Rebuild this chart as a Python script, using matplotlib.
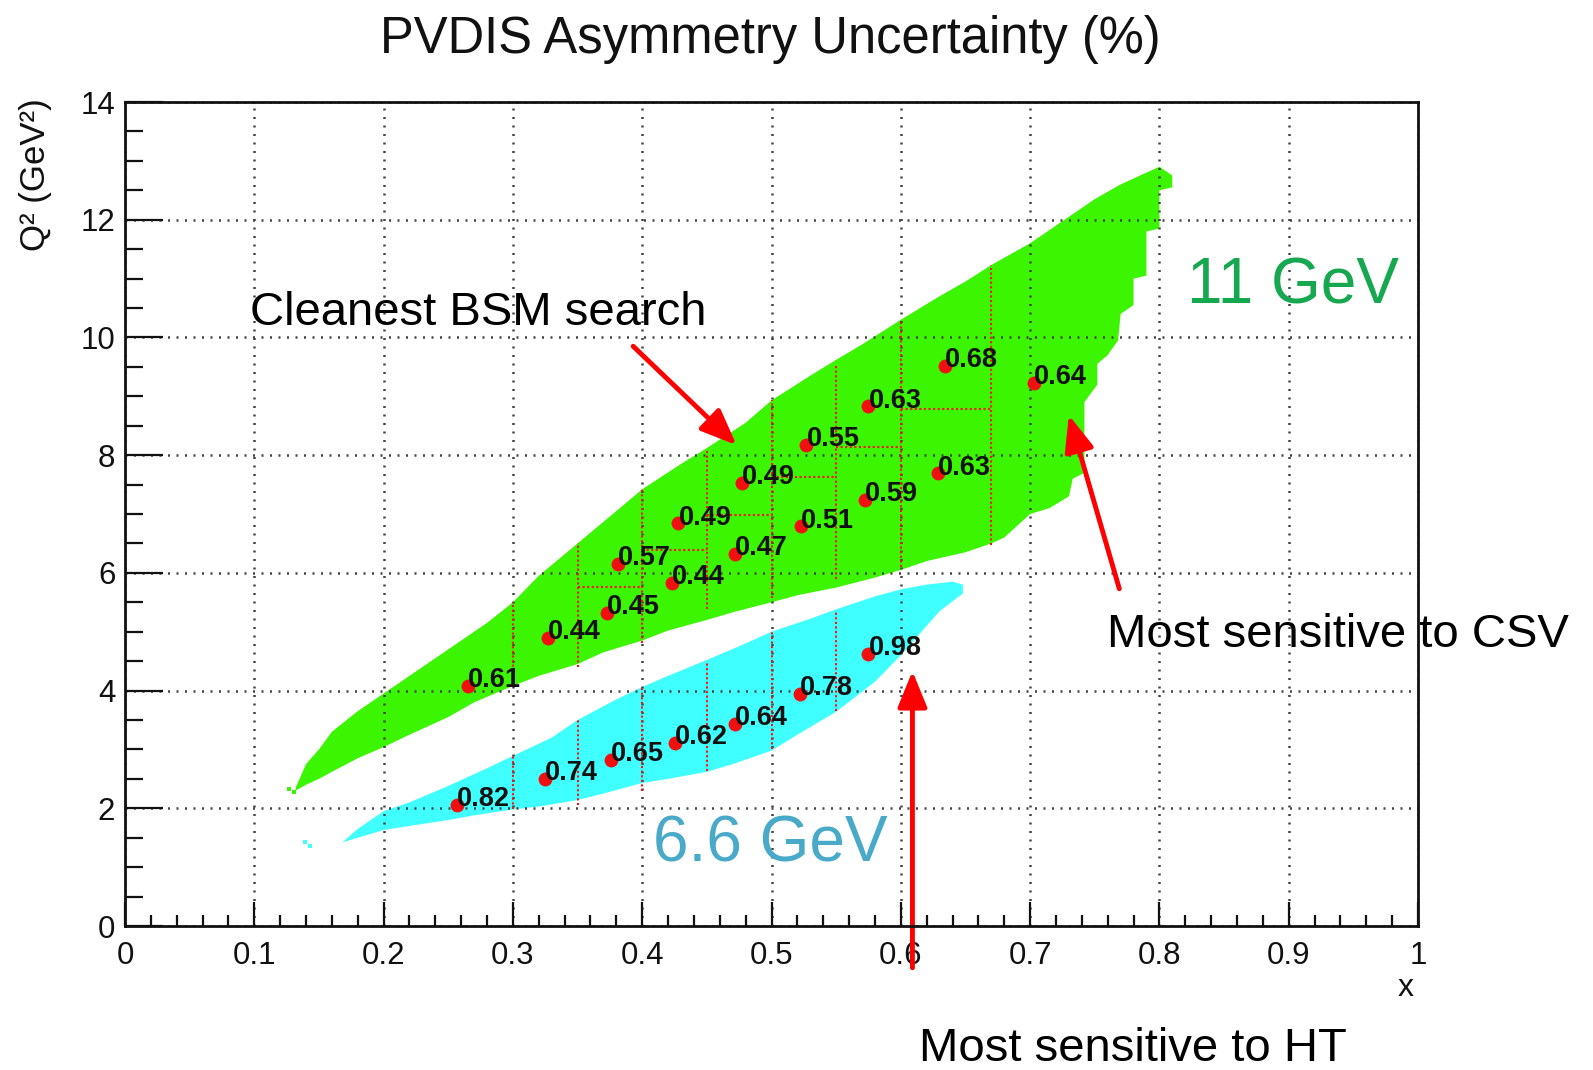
import matplotlib
matplotlib.use('Agg')
import matplotlib.pyplot as plt

plt.rcParams['font.family'] = ['Liberation Sans', 'DejaVu Sans']

# ---------------- data ----------------
TITLE = 'PVDIS Asymmetry Uncertainty (%)'
XLABEL = 'x'
YLABEL = 'Q² (GeV²)'

x_ticks = [0, 0.1, 0.2, 0.3, 0.4, 0.5, 0.6, 0.7, 0.8, 0.9, 1.0]
x_tick_labels = ['0', '0.1', '0.2', '0.3', '0.4', '0.5', '0.6', '0.7', '0.8', '0.9', '1']
y_ticks = [0, 2, 4, 6, 8, 10, 12, 14]
y_tick_labels = ['0', '2', '4', '6', '8', '10', '12', '14']

# 11 GeV kinematic coverage (outline)
green_outline_x = [0.132, 0.14, 0.15, 0.16, 0.18, 0.20, 0.22, 0.25, 0.28, 0.30, 0.32, 0.35,
                   0.38, 0.40, 0.43, 0.45, 0.48, 0.50, 0.53, 0.55, 0.57, 0.60, 0.63, 0.65,
                   0.67, 0.70, 0.73, 0.75, 0.77, 0.785, 0.795, 0.80, 0.81,
                   0.81, 0.80, 0.80, 0.79, 0.79, 0.78, 0.78, 0.77, 0.768, 0.76, 0.752, 0.752,
                   0.742, 0.742, 0.733, 0.73, 0.715, 0.70, 0.69, 0.68, 0.67,
                   0.65, 0.62, 0.60, 0.58, 0.55, 0.52, 0.50, 0.47, 0.45, 0.42, 0.40, 0.37,
                   0.35, 0.32, 0.30, 0.27, 0.25, 0.22, 0.20, 0.18, 0.16, 0.15, 0.14, 0.132]
green_outline_q2 = [2.35, 2.75, 3.0, 3.3, 3.65, 3.95, 4.25, 4.7, 5.15, 5.5, 5.95, 6.5,
                    7.05, 7.42, 7.85, 8.12, 8.55, 8.93, 9.35, 9.62, 9.88, 10.3, 10.7, 10.95,
                    11.23, 11.6, 12.05, 12.35, 12.6, 12.75, 12.85, 12.9, 12.75,
                    12.55, 12.5, 11.85, 11.8, 11.05, 11.0, 10.55, 10.4, 9.95, 9.7, 9.55, 9.2,
                    8.9, 7.7, 7.6, 7.3, 7.1, 7.0, 6.8, 6.6, 6.5,
                    6.35, 6.2, 6.05, 5.92, 5.75, 5.62, 5.5, 5.33, 5.2, 5.02, 4.85, 4.65,
                    4.45, 4.25, 4.08, 3.8, 3.55, 3.25, 3.04, 2.85, 2.62, 2.5, 2.4, 2.3]

# 6.6 GeV kinematic coverage (outline)
cyan_outline_x = [0.168, 0.18, 0.20, 0.22, 0.25, 0.28, 0.30, 0.33, 0.35, 0.38, 0.40, 0.42,
                  0.45, 0.48, 0.50, 0.53, 0.55, 0.58, 0.60, 0.62, 0.64, 0.648,
                  0.648, 0.63, 0.60, 0.58, 0.55, 0.52, 0.50, 0.47, 0.45, 0.42, 0.40, 0.37,
                  0.35, 0.32, 0.30, 0.27, 0.25, 0.22, 0.20, 0.18, 0.168]
cyan_outline_q2 = [1.42, 1.65, 1.95, 2.1, 2.38, 2.68, 2.89, 3.2, 3.5, 3.85, 4.06, 4.25,
                   4.52, 4.8, 5.0, 5.22, 5.38, 5.6, 5.72, 5.8, 5.85, 5.8,
                   5.65, 5.35, 4.6, 4.15, 3.64, 3.25, 2.98, 2.75, 2.62, 2.5, 2.43, 2.25,
                   2.14, 2.03, 1.98, 1.88, 1.8, 1.7, 1.63, 1.5, 1.42]

green_speck_x = [0.127, 0.131]
green_speck_q2 = [2.33, 2.28]
cyan_speck_x = [0.139, 0.143]
cyan_speck_q2 = [1.42, 1.36]

# bin boundaries (red dotted)
green_edge_x = [0.30, 0.35, 0.40, 0.45, 0.50, 0.55, 0.60, 0.67]
green_edge_lo = [4.1, 4.4, 4.8, 5.38, 5.57, 5.9, 6.1, 6.48]
green_edge_hi = [5.5, 6.5, 7.42, 8.1, 8.93, 9.53, 10.27, 11.23]
green_split_x0 = [0.35, 0.40, 0.45, 0.50, 0.55, 0.60]
green_split_x1 = [0.40, 0.45, 0.50, 0.55, 0.60, 0.67]
green_split_q2 = [5.76, 6.39, 6.98, 7.63, 8.14, 8.78]

cyan_edge_x = [0.30, 0.35, 0.40, 0.45, 0.50, 0.55]
cyan_edge_lo = [1.98, 2.06, 2.29, 2.63, 3.0, 3.65]
cyan_edge_hi = [2.89, 3.5, 4.06, 4.5, 5.0, 5.34]

# bin centres and asymmetry uncertainty (%)
green_x = [0.265, 0.327, 0.373, 0.381, 0.423, 0.428, 0.472, 0.477, 0.523, 0.527,
           0.572, 0.575, 0.629, 0.634, 0.703]
green_q2 = [4.08, 4.90, 5.32, 6.15, 5.83, 6.84, 6.32, 7.53, 6.79, 8.18,
            7.24, 8.83, 7.69, 9.52, 9.23]
green_unc = [0.61, 0.44, 0.45, 0.57, 0.44, 0.49, 0.47, 0.49, 0.51, 0.55,
             0.59, 0.63, 0.63, 0.68, 0.64]

cyan_x = [0.257, 0.325, 0.376, 0.425, 0.472, 0.522, 0.575]
cyan_q2 = [2.06, 2.50, 2.82, 3.11, 3.44, 3.94, 4.62]
cyan_unc = [0.82, 0.74, 0.65, 0.62, 0.64, 0.78, 0.98]

# annotation arrows: (tail x, tail Q2) -> (tip x, tip Q2)
arrow_tail_x = [0.393, 0.769, 0.609]
arrow_tail_q2 = [9.85, 5.73, -0.71]
arrow_tip_x = [0.473, 0.730, 0.609]
arrow_tip_q2 = [8.17, 8.68, 4.33]

# ---------------- figure ----------------
W, H = 1593, 1070
fig = plt.figure(figsize=(W / 100, H / 100), dpi=100)
L, R, T, B = 125, 1418, 102, 926
ax = fig.add_axes([L / W, 1 - B / H, (R - L) / W, (B - T) / H])

GREEN = '#3cf500'
CYAN = '#40ffff'

ax.fill(green_outline_x, green_outline_q2, color=GREEN, lw=0, zorder=1)
ax.fill(cyan_outline_x, cyan_outline_q2, color=CYAN, lw=0, zorder=1)
ax.scatter(green_speck_x, green_speck_q2, s=12, marker='s', color=GREEN, lw=0, zorder=1)
ax.scatter(cyan_speck_x, cyan_speck_q2, s=12, marker='s', color=CYAN, lw=0, zorder=1)

red_dot = dict(colors='#ff1010', linewidths=1.5, linestyles=[(0, (1.0, 1.2))], zorder=3)
ax.vlines(green_edge_x, green_edge_lo, green_edge_hi, **red_dot)
ax.hlines(green_split_q2, green_split_x0, green_split_x1, **red_dot)
ax.vlines(cyan_edge_x, cyan_edge_lo, cyan_edge_hi, **red_dot)

ax.plot(green_x, green_q2, 'o', color='#f01010', ms=10, mec='none', zorder=4)
ax.plot(cyan_x, cyan_q2, 'o', color='#f01010', ms=10, mec='none', zorder=4)
for xs, ys, vs in ((green_x, green_q2, green_unc), (cyan_x, cyan_q2, cyan_unc)):
    for xv, yv, v in zip(xs, ys, vs):
        ax.annotate(f'{v:.2f}', (xv, yv), xytext=(0, -1), textcoords='offset points',
                    ha='left', va='baseline', fontsize=19.5, fontweight='bold',
                    color='#111111', zorder=5)

for tx, ty, hx, hy in zip(arrow_tail_x, arrow_tail_q2, arrow_tip_x, arrow_tip_q2):
    ax.annotate('', xy=(hx, hy), xytext=(tx, ty), annotation_clip=False,
                arrowprops=dict(arrowstyle='-|>,head_length=1.1,head_width=0.45',
                                mutation_scale=20, lw=3.5, color='#ff0000',
                                shrinkA=0, shrinkB=0), zorder=6)

ax.set_xlim(0, 1)
ax.set_ylim(0, 14)
ax.set_xticks(x_ticks)
ax.set_xticklabels(x_tick_labels)
ax.set_yticks(y_ticks)
ax.set_yticklabels(y_tick_labels)
ax.set_xticks([i / 50 for i in range(51)], minor=True)
ax.set_yticks([i / 2 for i in range(29)], minor=True)
ax.tick_params(axis='both', which='both', direction='in', top=False, right=False,
               labelsize=22.5, colors='#111111', width=1.6)
ax.tick_params(axis='x', which='major', length=17, pad=11)
ax.tick_params(axis='x', which='minor', length=8)
ax.tick_params(axis='y', which='major', length=27, pad=7)
ax.tick_params(axis='y', which='minor', length=13)
ax.set_axisbelow(False)
ax.grid(True, which='major', color='#444444', lw=1.8, linestyle=(0, (0.8, 2.6)))
for s in ax.spines.values():
    s.set_linewidth(2.0)
    s.set_color('#111111')
    s.set_zorder(7)

# texts
fig.text(770 / W, 1 - 53 / H, TITLE, ha='center', va='baseline', fontsize=36.5, color='#111111')
fig.text(36 / W, 1 - 98 / H, YLABEL, rotation=90, ha='center', va='top', fontsize=25,
         color='#111111')
fig.text(1414 / W, 1 - 996 / H, XLABEL, ha='right', va='baseline', fontsize=23, color='#111111')

fig.text(250 / W, 1 - 325 / H, 'Cleanest BSM search', ha='left', va='baseline',
         fontsize=34, color='black')
fig.text(1187 / W, 1 - 303 / H, '11 GeV', ha='left', va='baseline', fontsize=46,
         color='#16a84e')
fig.text(653 / W, 1 - 862 / H, '6.6 GeV', ha='left', va='baseline', fontsize=46,
         color='#48aac8')
fig.text(1107 / W, 1 - 647 / H, 'Most sensitive to CSV', ha='left', va='baseline',
         fontsize=34, color='black')
fig.text(919 / W, 1 - 1061 / H, 'Most sensitive to HT', ha='left', va='baseline',
         fontsize=34, color='black')

fig.savefig('out.png', dpi=100)
